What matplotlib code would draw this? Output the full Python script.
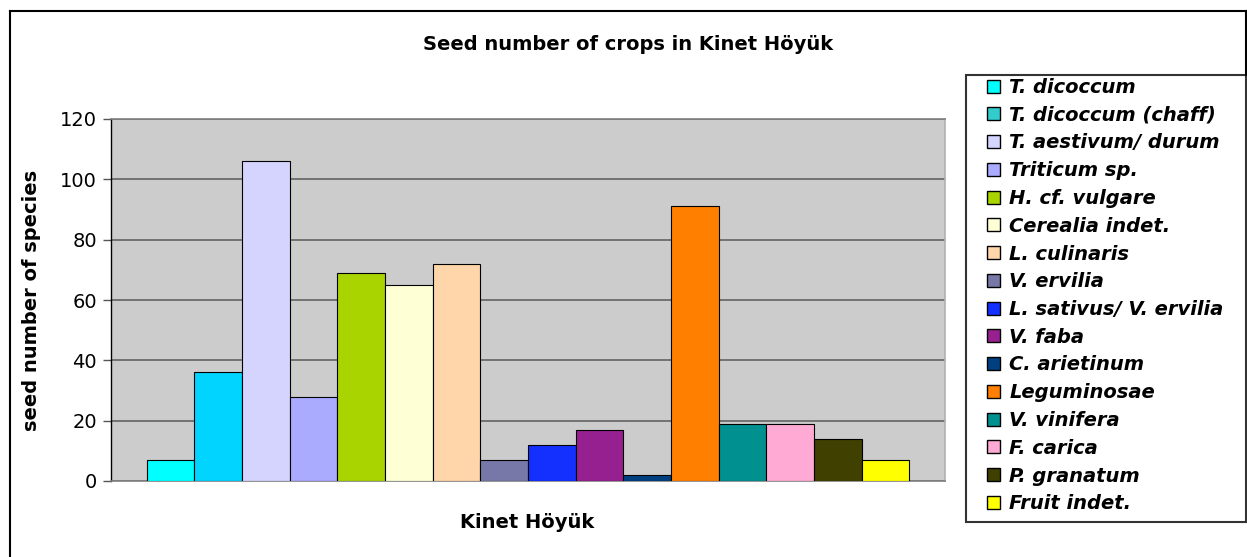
import matplotlib
matplotlib.use("Agg")
import matplotlib.pyplot as plt
from matplotlib.patches import Patch, Rectangle
from matplotlib.lines import Line2D

# Seed counts per crop, Kinet Hoyuk
species = [
    "T. dicoccum", "T. dicoccum (chaff)", "T. aestivum/ durum", "Triticum sp.",
    "H. cf. vulgare", "Cerealia indet.", "L. culinaris", "V. ervilia",
    "L. sativus/ V. ervilia", "V. faba", "C. arietinum", "Leguminosae",
    "V. vinifera", "F. carica", "P. granatum", "Fruit indet.",
]
seeds = [7, 36, 106, 28, 69, 65, 72, 7, 12, 17, 2, 91, 19, 19, 14, 7]

bar_colors = [
    "#00FFFF", "#00D4FF", "#D4D4FF", "#AAAAFF", "#AAD400", "#FFFFD5",
    "#FFD5AA", "#7878A8", "#1430FF", "#962090", "#004080", "#FF7F00",
    "#009090", "#FFAAD4", "#404000", "#FFFF00",
]
# legend swatches (chaff swatch is drawn a bit differently in the original)
legend_colors = list(bar_colors)
legend_colors[1] = "#33CCCC"

yticks = [0, 20, 40, 60, 80, 100, 120]

W, H = 1247, 557
fig = plt.figure(figsize=(W / 100, H / 100), dpi=100)

# plot area in pixels: x 111..945, y 119..481
ax = fig.add_axes([111 / W, 1 - 481 / H, (945 - 111) / W, (481 - 119) / H])
ax.set_facecolor("#CCCCCC")

x = list(range(len(seeds)))
ax.bar(x, seeds, width=1.0, color=bar_colors, edgecolor="black",
       linewidth=0.8, zorder=3)

ax.set_xlim(-1.25, len(seeds) - 1 + 1.25)
ax.set_ylim(0, 120)
ax.set_yticks(yticks)
ax.set_xticks([])
ax.yaxis.grid(True, color="#5A5A5A", linewidth=1.1, zorder=1)
ax.set_axisbelow(True)
ax.tick_params(axis="y", labelsize=14, length=6, width=1, color="#555555", pad=4)

ax.spines["left"].set_color("black")
ax.spines["left"].set_linewidth(1.0)
ax.spines["bottom"].set_color("#808080")
ax.spines["bottom"].set_linewidth(1.2)
ax.spines["top"].set_color("#808080")
ax.spines["top"].set_linewidth(1.2)
ax.spines["right"].set_color("#B0B0B0")
ax.spines["right"].set_linewidth(1.2)

# titles / labels
fig.text(628 / W, 1 - 45 / H, "Seed number of crops in Kinet Höyük",
         ha="center", va="center", fontsize=14, fontweight="bold")
fig.text(32 / W, 1 - 300 / H, "seed number of species", rotation=90,
         ha="center", va="center", fontsize=14, fontweight="bold")
fig.text(527 / W, 1 - 522 / H, "Kinet Höyük",
         ha="center", va="center", fontsize=14, fontweight="bold")

# legend box drawn by hand, entries placed inside
fig.patches.append(Rectangle((966 / W, 1 - 522 / H), (1246 - 966) / W,
                             (522 - 75) / H, transform=fig.transFigure,
                             facecolor="white", edgecolor="#333333",
                             linewidth=1.5, zorder=1))
handles = [Patch(facecolor=c, edgecolor="black", linewidth=1.0)
           for c in legend_colors]
fig.legend(handles, species, loc="upper left",
           bbox_to_anchor=(987 / W, 1 - 78 / H), bbox_transform=fig.transFigure,
           frameon=False, borderpad=0, borderaxespad=0,
           handlelength=0.65, handleheight=0.65, handletextpad=0.5,
           labelspacing=0.45,
           prop={"size": 14, "weight": "bold", "style": "italic"})

# outer chart frame
fig.lines.append(Line2D([10 / W, 10 / W], [0, 1 - 11 / H], transform=fig.transFigure,
                        color="black", linewidth=1.5))
fig.lines.append(Line2D([10 / W, 1], [1 - 11 / H, 1 - 11 / H], transform=fig.transFigure,
                        color="black", linewidth=1.5))
fig.lines.append(Line2D([1245.5 / W, 1245.5 / W], [1 - 75 / H, 1 - 11 / H],
                        transform=fig.transFigure, color="black", linewidth=1.5))

fig.savefig("out.png", dpi=100)
